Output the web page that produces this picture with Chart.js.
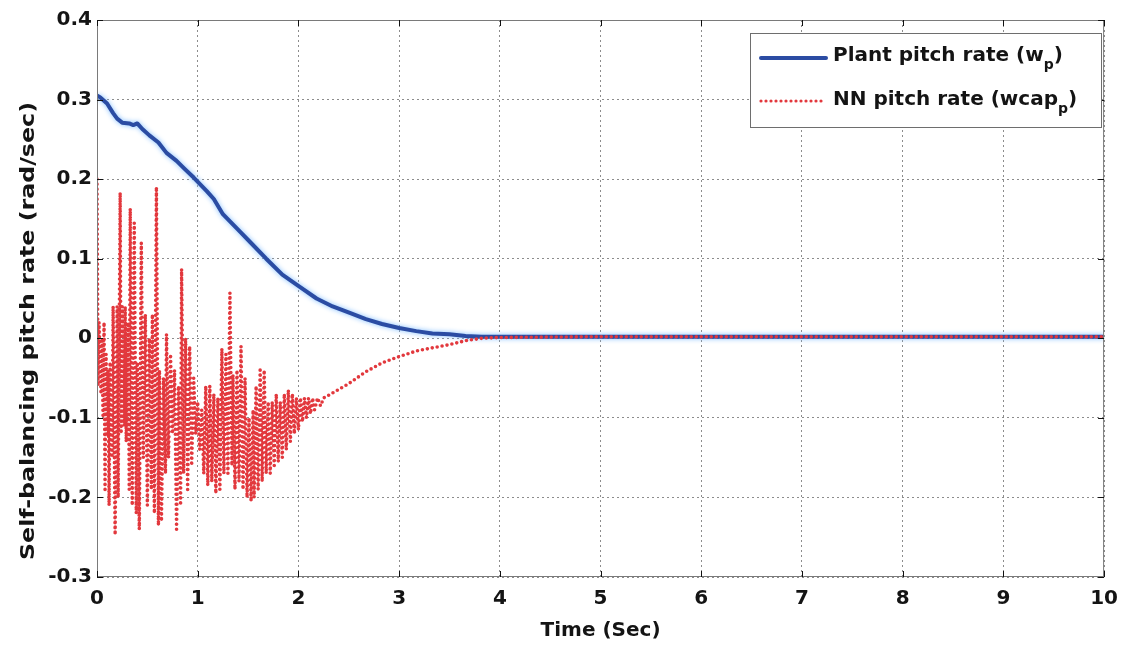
<!DOCTYPE html>
<html>
<head>
<meta charset="utf-8">
<title>Self-balancing pitch rate</title>
<script src="https://cdn.jsdelivr.net/npm/chart.js@4/dist/chart.umd.min.js"></script>
<style>
  html, body { margin: 0; padding: 0; background: #ffffff; }
  #wrap { width: 1128px; height: 645px; }
</style>
</head>
<body>
<div id="wrap"><canvas id="c" width="1128" height="645"></canvas></div>
<script>
// Axis ticks
const xTicks = [0, 1, 2, 3, 4, 5, 6, 7, 8, 9, 10];
const yTicks = [-0.3, -0.2, -0.1, 0, 0.1, 0.2, 0.3, 0.4];

// Plant pitch rate (w_p), time in seconds
const plantT = [0, 0.03, 0.10, 0.16, 0.20, 0.25, 0.32, 0.36, 0.40, 0.45, 0.52, 0.61, 0.69, 0.79, 0.87, 0.96,
  1.09, 1.16, 1.25, 1.42, 1.52, 1.68, 1.84, 2.01, 2.18, 2.34, 2.51, 2.67, 2.83, 3.00, 3.17,
  3.33, 3.50, 3.66, 3.82, 4.5, 5, 6, 7, 8, 9, 10];
const plantV = [0.305, 0.303, 0.295, 0.283, 0.276, 0.271, 0.270, 0.268, 0.270, 0.263, 0.255, 0.246, 0.233, 0.223, 0.213, 0.202,
  0.185, 0.175, 0.156, 0.134, 0.121, 0.100, 0.080, 0.065, 0.050, 0.040, 0.032, 0.024, 0.018, 0.013, 0.009,
  0.006, 0.005, 0.003, 0.002, 0.002, 0.002, 0.002, 0.002, 0.002, 0.002, 0.002];

// NN pitch rate (wcap_p), time in seconds
const nnT = [0, 0.01, 0.02, 0.04, 0.05, 0.06, 0.07, 0.08, 0.09, 0.10, 0.11, 0.12, 0.13, 0.15, 0.16,
  0.18, 0.20, 0.21, 0.23, 0.24, 0.25, 0.27, 0.28, 0.29, 0.31, 0.32, 0.33, 0.35, 0.37, 0.39,
  0.40, 0.42, 0.44, 0.46, 0.48, 0.50, 0.52, 0.54, 0.55, 0.57, 0.59, 0.61, 0.62, 0.64, 0.66,
  0.68, 0.69, 0.71, 0.73, 0.75, 0.77, 0.79, 0.81, 0.83, 0.84, 0.86, 0.88, 0.90, 0.92, 0.94,
  0.96, 0.98, 1.00, 1.02, 1.04, 1.06, 1.08, 1.10, 1.12, 1.14, 1.16, 1.18, 1.20, 1.22, 1.24,
  1.26, 1.28, 1.30, 1.32, 1.34, 1.35, 1.37, 1.39, 1.41, 1.43, 1.45, 1.47, 1.49, 1.51, 1.53,
  1.55, 1.56, 1.58, 1.60, 1.62, 1.64, 1.66, 1.68, 1.70, 1.72, 1.74, 1.76, 1.78, 1.80, 1.82,
  1.84, 1.86, 1.88, 1.90, 1.92, 1.94, 1.96, 1.98, 2.00, 2.02, 2.04, 2.06, 2.08, 2.10, 2.12,
  2.14, 2.16, 2.19, 2.22, 2.25, 2.28, 2.50, 2.67, 2.83, 3.00, 3.17, 3.33, 3.50, 3.66, 3.82,
  3.99, 5, 6, 7, 8, 9, 10];
const nnV = [0.20, -0.06, 0.02, -0.07, 0.00, -0.10, 0.02, -0.19, -0.02, -0.12, -0.04, -0.21, -0.03, -0.15, 0.04,
  -0.247, 0.04, -0.20, 0.183, -0.12, 0.04, -0.11, 0.04, -0.13, 0.02, -0.19, 0.163, -0.21, 0.145, -0.22,
  -0.03, -0.24, 0.12, -0.15, 0.03, -0.21, 0.00, -0.19, 0.03, -0.22, 0.19, -0.235, -0.04, -0.23, -0.05,
  -0.17, 0.005, -0.15, -0.02, -0.12, -0.04, -0.24, -0.06, -0.21, 0.087, -0.17, 0.00, -0.19, -0.01, -0.16,
  -0.05, -0.12, -0.08, -0.14, -0.09, -0.17, -0.06, -0.185, -0.06, -0.18, -0.07, -0.195, -0.075, -0.19, -0.013,
  -0.17, -0.02, -0.17, 0.057, -0.16, -0.046, -0.19, -0.04, -0.18, -0.01, -0.19, -0.05, -0.20, -0.10, -0.205,
  -0.09, -0.20, -0.06, -0.19, -0.04, -0.18, -0.04, -0.17, -0.08, -0.17, -0.08, -0.16, -0.07, -0.155, -0.08,
  -0.15, -0.07, -0.14, -0.065, -0.13, -0.07, -0.12, -0.075, -0.115, -0.075, -0.105, -0.075, -0.10, -0.075, -0.095,
  -0.075, -0.09, -0.075, -0.085, -0.075, -0.073, -0.057, -0.042, -0.031, -0.023, -0.016, -0.012, -0.008, -0.003, 0.000,
  0.001, 0.002, 0.002, 0.002, 0.002, 0.002, 0.002];

const BLUE = '#2b4ca3';
const RED = '#e2383d';
const FONT = '"DejaVu Sans", "Liberation Sans", Arial, sans-serif';

const pairs = (ts, vs) => ts.map((t, i) => ({ x: t, y: vs[i] }));

// Light halo around the plant curve
const haloPlugin = {
  id: 'halo',
  beforeDatasetDraw(chart, args) {
    if (args.index !== 1) return;
    const ctx = chart.ctx;
    ctx.save();
    ctx.shadowColor = 'rgba(120, 185, 255, 0.95)';
    ctx.shadowBlur = 5;
  },
  afterDatasetDraw(chart, args) {
    if (args.index !== 1) return;
    chart.ctx.restore();
  }
};

// Axes box, inward tick marks, axis titles and legend
const framePlugin = {
  id: 'frame',
  afterDraw(chart) {
    const ctx = chart.ctx;
    const a = chart.chartArea;
    const xs = chart.scales.x, ys = chart.scales.y;
    ctx.save();
    // box
    ctx.strokeStyle = '#7a7a7a';
    ctx.lineWidth = 1;
    ctx.setLineDash([]);
    ctx.strokeRect(a.left + 0.5, a.top + 0.5, a.right - a.left - 1, a.bottom - a.top - 1);
    // ticks pointing inward on all four sides
    ctx.strokeStyle = '#111';
    ctx.beginPath();
    xTicks.forEach(v => {
      const px = Math.round(xs.getPixelForValue(v)) + 0.5;
      ctx.moveTo(px, a.bottom); ctx.lineTo(px, a.bottom - 6);
      ctx.moveTo(px, a.top); ctx.lineTo(px, a.top + 6);
    });
    yTicks.forEach(v => {
      const py = Math.round(ys.getPixelForValue(v)) + 0.5;
      ctx.moveTo(a.left, py); ctx.lineTo(a.left + 6, py);
      ctx.moveTo(a.right, py); ctx.lineTo(a.right - 6, py);
    });
    ctx.stroke();

    // axis titles
    ctx.fillStyle = '#141414';
    ctx.font = 'bold 20px ' + FONT;
    ctx.textAlign = 'center';
    ctx.textBaseline = 'middle';
    ctx.fillText('Time (Sec)', (a.left + a.right) / 2, 631);

    const yTitle = 'Self-balancing pitch rate (rad/sec)';
    const w = ctx.measureText(yTitle).width;
    ctx.save();
    ctx.translate(29, 331);
    ctx.rotate(-Math.PI / 2);
    ctx.scale(458 / w, 1);
    ctx.fillText(yTitle, 0, 0);
    ctx.restore();

    // legend
    const L = 750, T = 33, R = 1102, B = 128;
    ctx.fillStyle = '#ffffff';
    ctx.fillRect(L, T, R - L, B - T);
    ctx.strokeStyle = '#6e6e6e';
    ctx.lineWidth = 1;
    ctx.strokeRect(L + 0.5, T + 0.5, R - L - 1, B - T - 1);

    ctx.lineCap = 'round';
    ctx.strokeStyle = BLUE;
    ctx.lineWidth = 4;
    ctx.beginPath(); ctx.moveTo(761, 58); ctx.lineTo(826, 58); ctx.stroke();
    ctx.strokeStyle = RED;
    ctx.lineWidth = 3.2;
    ctx.setLineDash([0, 5]);
    ctx.beginPath(); ctx.moveTo(761, 101); ctx.lineTo(826, 101); ctx.stroke();
    ctx.setLineDash([]);

    const entry = (pre, sub, post, x, base) => {
      ctx.fillStyle = '#141414';
      ctx.textAlign = 'left';
      ctx.textBaseline = 'alphabetic';
      ctx.font = 'bold 20px ' + FONT;
      ctx.fillText(pre, x, base);
      let cx = x + ctx.measureText(pre).width;
      ctx.font = 'bold 14px ' + FONT;
      ctx.fillText(sub, cx, base + 8);
      cx += ctx.measureText(sub).width;
      ctx.font = 'bold 20px ' + FONT;
      ctx.fillText(post, cx, base);
    };
    entry('Plant pitch rate (w', 'p', ')', 833, 61);
    entry('NN pitch rate (wcap', 'p', ')', 833, 105);
    ctx.restore();
  }
};

const tickFont = { family: FONT, size: 20, weight: 'bold' };

new Chart(document.getElementById('c'), {
  type: 'line',
  data: {
    datasets: [
      {
        label: 'NN pitch rate (wcap_p)',
        data: pairs(nnT, nnV),
        borderColor: RED,
        borderWidth: 3.6,
        borderDash: [0, 5],
        borderCapStyle: 'round',
        pointRadius: 0,
        tension: 0,
        fill: false
      },
      {
        label: 'Plant pitch rate (w_p)',
        data: pairs(plantT, plantV),
        borderColor: BLUE,
        borderWidth: 4,
        borderJoinStyle: 'round',
        pointRadius: 0,
        tension: 0,
        fill: false
      }
    ]
  },
  options: {
    responsive: false,
    animation: false,
    devicePixelRatio: 1,
    layout: { padding: { left: 0, right: 20, top: 20, bottom: 0 } },
    plugins: { legend: { display: false }, tooltip: { enabled: false } },
    scales: {
      x: {
        type: 'linear',
        min: 0, max: 10,
        afterBuildTicks: s => { s.ticks = xTicks.map(v => ({ value: v })); },
        afterFit: s => { s.height = 68; },
        grid: { color: '#8c8c8c', lineWidth: 1, drawTicks: false },
        border: { display: false, dash: [2, 3] },
        ticks: {
          font: tickFont, color: '#141414', padding: 10, maxRotation: 0,
          callback: v => String(v)
        }
      },
      y: {
        type: 'linear',
        min: -0.3, max: 0.4,
        afterBuildTicks: s => { s.ticks = yTicks.map(v => ({ value: v })); },
        afterFit: s => { s.width = 97; },
        grid: { color: '#8c8c8c', lineWidth: 1, drawTicks: false },
        border: { display: false, dash: [2, 3] },
        ticks: {
          font: tickFont, color: '#141414', padding: 5,
          callback: v => (Math.abs(v) < 1e-9 ? '0' : v.toFixed(1))
        }
      }
    }
  },
  plugins: [haloPlugin, framePlugin]
});
</script>
</body>
</html>
